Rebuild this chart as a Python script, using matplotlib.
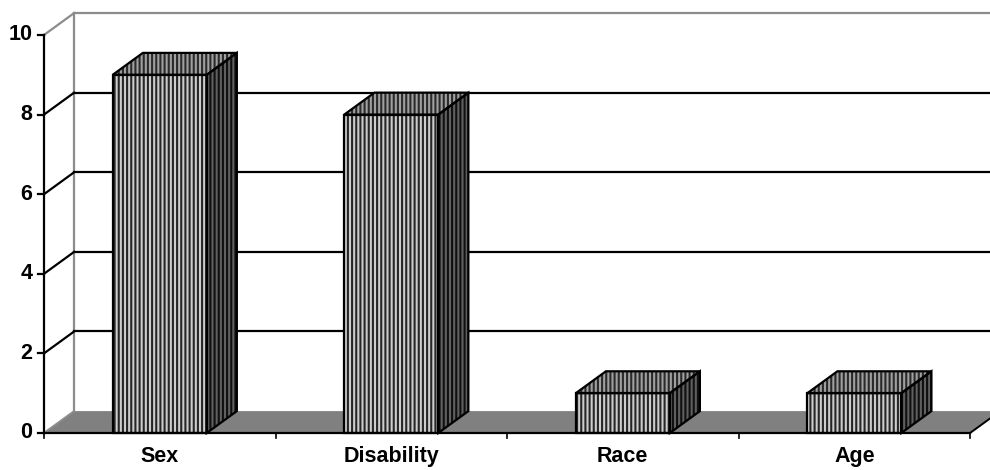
import matplotlib.pyplot as plt
from matplotlib.patches import Polygon

categories = ['Sex', 'Disability', 'Race', 'Age']
counts = [9, 8, 1, 1]
y_ticks = [0, 2, 4, 6, 8, 10]

plt.rcParams['font.family'] = ['Liberation Sans', 'DejaVu Sans']
plt.rcParams['hatch.linewidth'] = 1.5

# fake 3D: depth offset of the back wall / bar tops, in data units
depth_x, depth_y = 0.13, 0.55
bar_w = 0.406
n = len(categories)
y_max = y_ticks[-1]

wall_gray = '#8c8c8c'

fig = plt.figure(figsize=(9.9, 4.7), dpi=100)
ax = fig.add_axes([0, 0, 1, 1])
ax.set_xlim(-0.19, 4.086)
ax.set_ylim(-0.93, 10.879)
ax.axis('off')

# --- back wall and side wall ---
ax.plot([depth_x, depth_x], [depth_y, y_max + depth_y], color=wall_gray, lw=1.6, zorder=1)
for t in y_ticks[1:]:
    c = wall_gray if t == y_max else 'black'
    ax.plot([depth_x, n + depth_x + 1], [t + depth_y, t + depth_y], color=c, lw=1.6, zorder=1)
    ax.plot([0, depth_x], [t, t + depth_y], color=c, lw=1.6, zorder=1)

# floor slab
floor = Polygon([(0, 0), (n, 0), (n + depth_x, depth_y), (depth_x, depth_y)],
                closed=True, facecolor='#808080', edgecolor='none', zorder=2)
ax.add_patch(floor)
ax.plot([0, depth_x], [0, depth_y], color=wall_gray, lw=1.4, zorder=2)
ax.plot([n, n + depth_x], [0, depth_y], color='black', lw=1.4, zorder=2)


def face(pts, fc, hc, z):
    ax.add_patch(Polygon(pts, closed=True, facecolor=fc, edgecolor=hc, lw=0,
                         hatch='||||', zorder=z))
    ax.add_patch(Polygon(pts, closed=True, fill=False, edgecolor='black', lw=1.6,
                         joinstyle='miter', zorder=z + 0.1))


# --- bars ---
for i, v in enumerate(counts):
    x0 = i + 0.5 - bar_w / 2
    x1 = x0 + bar_w
    front = [(x0, 0), (x1, 0), (x1, v), (x0, v)]
    top = [(x0, v), (x1, v), (x1 + depth_x, v + depth_y), (x0 + depth_x, v + depth_y)]
    side = [(x1, 0), (x1 + depth_x, depth_y), (x1 + depth_x, v + depth_y), (x1, v)]
    face(side, '#606060', '#101010', 3)
    face(top, '#a0a0a0', '#2a2a2a', 3)
    face(front, '#cdcdcd', '#262626', 3)

# --- front axes ---
ax.plot([0, 0], [0, y_max], color='black', lw=1.6, zorder=5)
ax.plot([0, n], [0, 0], color='black', lw=1.6, zorder=5)
for t in y_ticks:
    ax.plot([-0.026, 0], [t, t], color='black', lw=1.6, zorder=5)
    ax.text(-0.05, t, str(t), ha='right', va='center', fontsize=15.5, fontweight='bold')
for k in range(n + 1):
    ax.plot([k, k], [0, -0.13], color='black', lw=1.2, zorder=5)
for i, name in enumerate(categories):
    ax.text(i + 0.5, -0.6, name, ha='center', va='center', fontsize=15.5, fontweight='bold')

fig.savefig('out.png', dpi=100)
